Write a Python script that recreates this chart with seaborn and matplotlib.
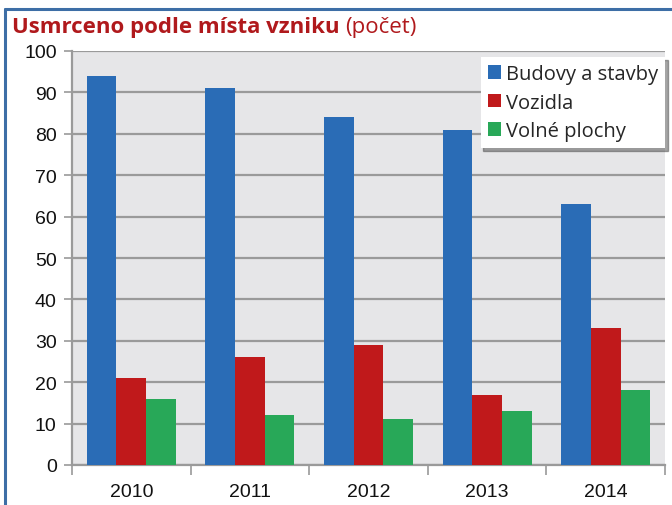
import matplotlib
matplotlib.use("Agg")
import matplotlib.pyplot as plt
from matplotlib.lines import Line2D
from matplotlib.patches import Patch
import seaborn as sns
import pandas as pd

years = ["2010", "2011", "2012", "2013", "2014"]
series = ["Budovy a stavby", "Vozidla", "Volné plochy"]
budovy = [94, 91, 84, 81, 63]
vozidla = [21, 26, 29, 17, 33]
volne = [16, 12, 11, 13, 18]
colors = ["#2A6CB6", "#C0191B", "#28A858"]
yticks = [0, 10, 20, 30, 40, 50, 60, 70, 80, 90, 100]

df = pd.DataFrame({
    "rok": years * 3,
    "řada": [series[0]] * 5 + [series[1]] * 5 + [series[2]] * 5,
    "počet": budovy + vozidla + volne,
})

sns.set_theme(style="white")
plt.rcParams["font.family"] = ["Liberation Sans", "DejaVu Sans"]
label_font = ["Open Sans", "DejaVu Sans"]

fig = plt.figure(figsize=(6.72, 5.06), dpi=100)
ax = fig.add_axes([72 / 672, 40 / 506, 593 / 672, 414 / 506])
ax.set_facecolor("#E6E6E8")

sns.barplot(data=df, x="rok", y="počet", hue="řada", palette=colors,
            width=0.75, saturation=1, ax=ax, legend=False, zorder=3,
            linewidth=0)

grid_c = "#9A9A9A"
ax.set_ylim(0, 100)
ax.set_xlim(-0.5, 4.5)
ax.set_yticks(yticks)
ax.set_yticklabels([str(v) for v in yticks], fontsize=14, color="#111111")
ax.yaxis.grid(True, color=grid_c, linewidth=1.6, zorder=1)
ax.set_axisbelow(True)
ax.tick_params(axis="y", length=6, width=1.2, color=grid_c, pad=5, left=True)
ax.tick_params(axis="x", which="major", length=0, labelsize=14, pad=13,
               labelcolor="#111111")
ax.set_xticks([i - 0.5 for i in range(6)], minor=True)
ax.tick_params(axis="x", which="minor", length=7, width=1.2, color=grid_c,
               bottom=True)
ax.set_xlabel("")
ax.set_ylabel("")
for s in ["top", "right"]:
    ax.spines[s].set_visible(False)
for s in ["left", "bottom"]:
    ax.spines[s].set_color(grid_c)
    ax.spines[s].set_linewidth(1.6)

handles = [Patch(facecolor=c, edgecolor="none") for c in colors]
leg = ax.legend(handles, series, loc="upper right", bbox_to_anchor=(1.0, 0.985),
                frameon=True, fancybox=False, shadow=True, framealpha=1,
                handlelength=0.65, handleheight=0.65, handletextpad=0.25,
                borderpad=0.35, labelspacing=0.42, borderaxespad=0,
                prop={"family": label_font, "size": 14.5})
leg.get_frame().set_edgecolor("none")
leg.get_frame().set_facecolor("white")
leg.set_zorder(5)

# outer frame (top and left edges)
border_c = "#3D6EA6"
fig.add_artist(Line2D([5 / 672, 1.0], [1 - 10 / 506, 1 - 10 / 506],
                      transform=fig.transFigure, color=border_c, linewidth=2.2))
fig.add_artist(Line2D([5 / 672, 5 / 672], [0.0, 1 - 10 / 506],
                      transform=fig.transFigure, color=border_c, linewidth=2.2))

title_c = "#B0191C"
t1 = fig.text(12 / 672, 1 - 28 / 506, "Usmrceno podle místa vzniku",
              fontsize=16, fontweight="bold", color=title_c, va="center",
              family=label_font)
fig.canvas.draw()
bb = t1.get_window_extent()
fig.text((bb.x1 + 5) / 672, 1 - 28 / 506, "(počet)", fontsize=16,
         color=title_c, va="center", family=label_font)

fig.savefig("out.png", dpi=100)
